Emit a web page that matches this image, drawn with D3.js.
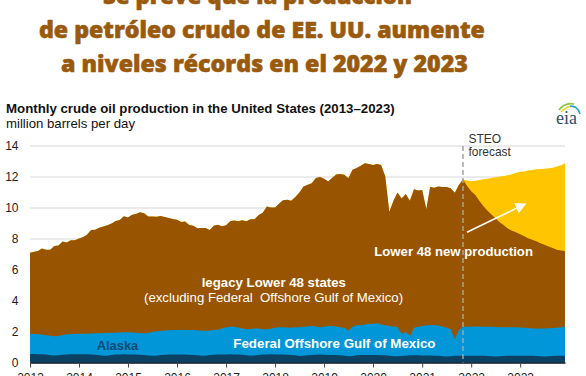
<!DOCTYPE html>
<html><head><meta charset="utf-8">
<script src="https://cdn.jsdelivr.net/npm/d3@7"></script>
<style>
html,body{margin:0;padding:0;background:#fff;}
svg{display:block;}
</style></head>
<body>
<svg id="chart" width="586" height="376"></svg>
<script>
// ---------- DATA ----------
const titleLines = ["Se prevé que la producción", "de petróleo crudo de EE. UU. aumente", "a niveles récords en el 2022 y 2023"];
const chartTitle = "Monthly crude oil production in the United States (2013–2023)";
const unitLabel = "million barrels per day";
const yTicks = [0, 2, 4, 6, 8, 10, 12, 14];
const yearTicks = [2013, 2014, 2015, 2016, 2017, 2018, 2019, 2020, 2021, 2022, 2023];
const forecastStart = "2021-11";

// total U.S. crude oil production, Jan 2013 – Dec 2023 (history + STEO forecast)
const totalProduction = [
  7.08,7.15,7.19,7.36,7.28,7.27,7.51,7.55,7.80,7.74,7.89,7.88,
  8.00,8.09,8.24,8.55,8.57,8.70,8.78,8.86,8.97,9.13,9.20,9.43,
  9.36,9.54,9.58,9.69,9.63,9.42,9.42,9.41,9.45,9.39,9.32,9.26,
  9.21,9.06,9.09,8.87,8.83,8.66,8.68,8.68,8.55,8.82,8.89,8.79,
  8.86,9.11,9.16,9.11,9.18,9.11,9.24,9.25,9.51,9.66,10.07,10.00,
  10.00,10.26,10.46,10.50,10.44,10.67,10.96,11.35,11.47,11.56,11.91,11.96,
  11.85,11.67,11.91,12.13,12.16,12.11,11.88,12.44,12.55,12.70,12.86,12.80,
  12.75,12.80,12.74,12.00,9.71,10.44,10.97,10.58,10.87,10.44,11.17,11.10,
  11.13,9.88,11.33,11.27,11.35,11.32,11.33,11.25,10.95,11.45,11.80,11.75,
  11.70,11.72,11.78,11.82,11.86,11.90,11.95,12.00,12.03,12.08,12.15,12.25,
  12.30,12.33,12.38,12.42,12.46,12.48,12.50,12.53,12.57,12.65,12.72,12.85
];
// total excluding Lower 48 new production, forecast months Nov 2021 – Dec 2023
const forecastLegacyTotal = [
  11.80,11.40,11.05,10.80,10.45,10.10,9.80,9.55,9.30,9.05,8.85,8.65,8.50,
  8.40,8.27,8.14,8.02,7.92,7.82,7.70,7.60,7.48,7.38,7.28,7.22,7.20
];
// Alaska production
const alaska = [
  .55,.55,.54,.53,.51,.47,.45,.47,.50,.52,.53,.54,
  .54,.53,.53,.52,.50,.46,.44,.43,.48,.51,.52,.53,
  .52,.52,.51,.50,.48,.45,.43,.44,.48,.50,.51,.52,
  .51,.52,.51,.50,.49,.46,.43,.44,.48,.50,.52,.52,
  .52,.53,.52,.51,.50,.47,.44,.45,.49,.51,.52,.53,
  .52,.52,.51,.50,.48,.46,.42,.43,.47,.49,.50,.51,
  .50,.49,.49,.48,.47,.44,.41,.42,.46,.48,.49,.49,
  .48,.48,.47,.46,.44,.40,.40,.42,.44,.46,.46,.46,
  .45,.45,.45,.44,.43,.40,.39,.41,.43,.44,.44,.44,
  .44,.44,.44,.43,.42,.40,.39,.40,.42,.43,.44,.44,
  .44,.44,.44,.43,.42,.40,.39,.40,.42,.43,.44,.44
];
// Alaska + Federal Offshore Gulf of Mexico
const alaskaPlusGulf = [
  1.86,1.84,1.82,1.80,1.76,1.72,1.70,1.71,1.78,1.82,1.84,1.84,
  1.85,1.86,1.86,1.87,1.88,1.89,1.90,1.92,1.91,1.93,1.94,1.95,
  1.95,1.94,1.92,1.90,1.88,1.90,1.96,2.02,2.03,2.06,2.08,2.10,
  2.10,2.11,2.10,2.09,2.10,2.08,2.05,2.05,2.07,2.10,2.12,2.20,
  2.27,2.30,2.31,2.26,2.20,2.14,2.16,2.20,2.19,2.15,2.14,2.18,
  2.24,2.27,2.27,2.26,2.25,2.27,2.27,2.30,2.33,2.35,2.32,2.28,
  2.30,2.35,2.35,2.33,2.28,2.24,2.05,2.30,2.42,2.40,2.45,2.48,
  2.50,2.53,2.45,2.40,2.36,2.30,2.30,1.84,1.99,1.71,2.25,2.31,
  2.36,2.40,2.42,2.40,2.38,2.32,2.25,2.15,1.50,2.10,2.31,2.31,
  2.31,2.32,2.32,2.31,2.30,2.30,2.29,2.28,2.28,2.27,2.27,2.27,
  2.26,2.25,2.22,2.20,2.20,2.20,2.20,2.21,2.22,2.25,2.28,2.31
];

const seriesKeys = ["alaska", "gulf", "legacy", "newProd"];
const seriesColors = {alaska: "#0b4263", gulf: "#0196d8", legacy: "#995400", newProd: "#ffc600"};

// ---------- BUILD TABLE ----------
const parseMonth = d3.timeParse("%Y-%m");
const months = d3.timeMonth.range(new Date(2013, 0, 1), new Date(2024, 0, 1));
const fStart = parseMonth(forecastStart);
const fIndex = months.findIndex(m => +m === +fStart);
const table = months.map((m, i) => {
  const legacyTotal = i >= fIndex ? forecastLegacyTotal[i - fIndex] : totalProduction[i];
  return {
    date: m,
    alaska: alaska[i],
    gulf: alaskaPlusGulf[i] - alaska[i],
    legacy: legacyTotal - alaskaPlusGulf[i],
    newProd: totalProduction[i] - legacyTotal
  };
});
const stacked = d3.stack().keys(seriesKeys)(table);

// ---------- SCALES ----------
const svg = d3.select("#chart");
const x = d3.scaleTime().domain([months[0], months[months.length - 1]]).range([30, 565]);
const y = d3.scaleLinear().domain([0, 14]).range([362.5, 145.5]);

// ---------- TITLE ----------
function fit(sel, w) {
  const fs = parseFloat(sel.attr("font-size"));
  const cur = sel.node().getComputedTextLength();
  sel.attr("font-size", (fs * w / cur).toFixed(2));
  return sel;
}
const titleSpec = [[103, 412, 3.5], [39, 485, 37.5], [61, 468, 71.5]];
titleLines.forEach((t, i) => {
  const s = svg.append("text").attr("x", titleSpec[i][0]).attr("y", titleSpec[i][2])
    .attr("font-family", "'Open Sans', sans-serif").attr("font-weight", 800)
    .attr("font-size", 21).attr("fill", "#9a5a0d")
    .attr("stroke", "#9a5a0d").attr("stroke-width", 0.6).attr("stroke-linejoin", "round").text(t);
  fit(s, titleSpec[i][1] - titleSpec[i][0]);
});

fit(svg.append("text").attr("x", 6).attr("y", 112.5)
  .attr("font-family", "'Liberation Sans', Arial, sans-serif").attr("font-weight", 700)
  .attr("font-size", 12).attr("fill", "#111").text(chartTitle), 389);
fit(svg.append("text").attr("x", 6).attr("y", 128)
  .attr("font-family", "'Liberation Sans', Arial, sans-serif")
  .attr("font-size", 12).attr("fill", "#111").text(unitLabel), 129);

// EIA logo
const logo = svg.append("g");
logo.append("text").attr("x", 556).attr("y", 123.5)
  .attr("font-family", "'Liberation Serif', 'DejaVu Serif', serif")
  .attr("font-size", 18).attr("fill", "#2d4d6b").text("eia");
logo.append("path").attr("d", "M559,110 Q565,102 574,104").attr("fill", "none").attr("stroke", "#8cc63e").attr("stroke-width", 1.6);
logo.append("path").attr("d", "M561,112 Q567,105 576,107").attr("fill", "none").attr("stroke", "#f7d117").attr("stroke-width", 1.6);
logo.append("path").attr("d", "M570,106 Q578,106 580,114").attr("fill", "none").attr("stroke", "#14a0dc").attr("stroke-width", 1.6);

// ---------- GRID / Y AXIS ----------
const yAxis = d3.axisLeft(y).tickValues(yTicks).tickSize(-535).tickPadding(11.5);
const gy = svg.append("g").attr("transform", "translate(30,0)").call(yAxis);
gy.select(".domain").remove();
gy.selectAll(".tick line").attr("stroke", "#d6d6d6").attr("stroke-width", 1);
gy.selectAll(".tick text").attr("font-family", "'Liberation Sans', Arial, sans-serif")
  .attr("font-size", 12).attr("fill", "#222");

// ---------- AREAS ----------
const area = d3.area().x(d => x(d.data.date)).y0(y(0)).y1(d => y(d[1]));
const layers = svg.append("g");
[...stacked].reverse().forEach(s => {
  layers.append("path").datum(s).attr("d", area).attr("fill", seriesColors[s.key]);
});

// ---------- X AXIS ----------
const xAxis = d3.axisBottom(x).tickValues(yearTicks.map(yv => new Date(yv, 0, 1)))
  .tickFormat(d3.timeFormat("%Y")).tickSize(5).tickSizeOuter(0).tickPadding(6);
const gx = svg.append("g").attr("transform", `translate(0,${y(0)})`).call(xAxis);
gx.select(".domain").attr("stroke", "#0e1c28").attr("stroke-width", 1.5);
gx.selectAll(".tick line").attr("stroke", "#444");
gx.selectAll(".tick text").attr("font-family", "'Liberation Sans', Arial, sans-serif")
  .attr("font-size", 12).attr("fill", "#222");

// ---------- FORECAST LINE ----------
svg.append("line").attr("x1", x(fStart)).attr("x2", x(fStart))
  .attr("y1", 146).attr("y2", y(0))
  .attr("stroke", "#a3a3a3").attr("stroke-width", 1.5).attr("stroke-dasharray", "5,3");
svg.append("text").attr("x", x(fStart) + 5.5).attr("y", 142.5)
  .attr("font-family", "'Liberation Sans', Arial, sans-serif").attr("font-size", 12)
  .attr("fill", "#333").text("STEO");
fit(svg.append("text").attr("x", x(fStart) + 5.5).attr("y", 155.5)
  .attr("font-family", "'Liberation Sans', Arial, sans-serif").attr("font-size", 12)
  .attr("fill", "#333").text("forecast"), 42.3);

// arrow
const defs = svg.append("defs");
defs.append("marker").attr("id", "arrowHead").attr("viewBox", "0 0 10 10")
  .attr("refX", 8).attr("refY", 5).attr("markerWidth", 11).attr("markerHeight", 11)
  .attr("orient", "auto").attr("markerUnits", "userSpaceOnUse")
  .append("path").attr("d", "M0,0 L10,5 L0,10 z").attr("fill", "#fff");
svg.append("line")
  .attr("x1", x(new Date(2021, 11, 1))).attr("y1", y(8.4))
  .attr("x2", x(new Date(2023, 1, 1))).attr("y2", y(10.2))
  .attr("stroke", "#fff").attr("stroke-width", 1.6).attr("marker-end", "url(#arrowHead)");

// ---------- LABELS ----------
const lab = (tx, x0, w, yb, weight, fill) => fit(svg.append("text").attr("x", x0).attr("y", yb)
  .attr("font-family", "'Liberation Sans', Arial, sans-serif").attr("font-weight", weight)
  .attr("font-size", 13).attr("fill", fill).style("white-space", "pre").text(tx), w);
lab("Lower 48 new production", 374.3, 158.7, 255.5, 700, "#fff");
lab("legacy Lower 48 states", 201.7, 144.3, 286.5, 700, "#fff");
lab("(excluding Federal  Offshore Gulf of Mexico)", 144, 259.3, 301.5, 400, "#fff");
lab("Alaska", 96.7, 41.6, 349.5, 700, "#0d4a73");
lab("Federal Offshore Gulf of Mexico", 233.3, 202.4, 348, 700, "#fff");
</script>
</body></html>
